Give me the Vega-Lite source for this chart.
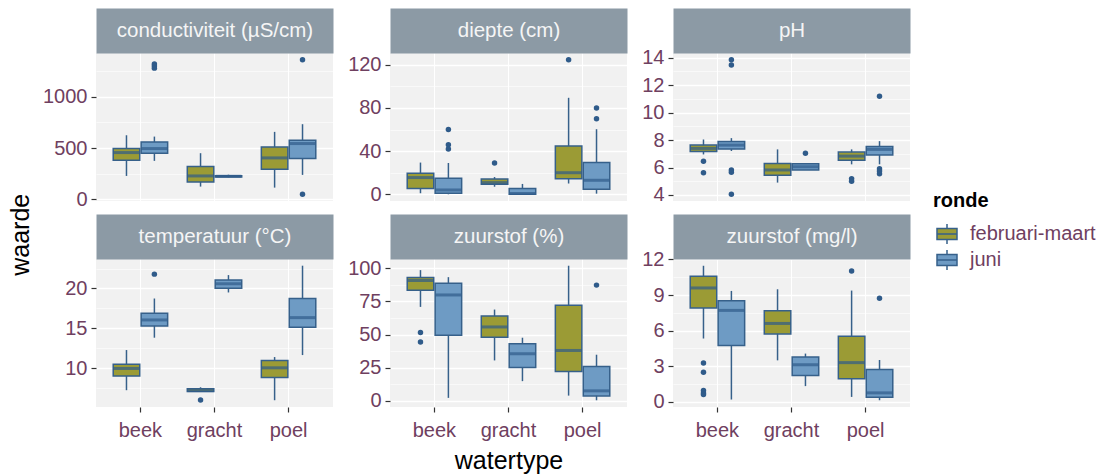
{
  "$schema": "https://vega.github.io/schema/vega-lite/v6.json",
  "padding": {"left": 8, "top": 20, "right": 5, "bottom": 2},
  "title": {"text": "waarde", "orient": "left", "anchor": "middle", "fontSize": 25, "fontWeight": "normal", "color": "#000000", "font": "Liberation Sans", "offset": 9, "dx": 12},
  "datasets": {
    "boxes": [
      {"var": "cond", "watertype": "beek", "ronde": "februari-maart", "lo": 228, "q1": 381, "med": 456, "q3": 495, "hi": 625},
      {"var": "cond", "watertype": "beek", "ronde": "juni", "lo": 375, "q1": 450, "med": 495, "q3": 560, "hi": 612},
      {"var": "cond", "watertype": "gracht", "ronde": "februari-maart", "lo": 124, "q1": 169, "med": 228, "q3": 319, "hi": 450},
      {"var": "cond", "watertype": "gracht", "ronde": "juni", "lo": 215, "q1": 218, "med": 225, "q3": 230, "hi": 240},
      {"var": "cond", "watertype": "poel", "ronde": "februari-maart", "lo": 114, "q1": 293, "med": 404, "q3": 511, "hi": 658},
      {"var": "cond", "watertype": "poel", "ronde": "juni", "lo": 238, "q1": 397, "med": 544, "q3": 577, "hi": 733},
      {"var": "diepte", "watertype": "beek", "ronde": "februari-maart", "lo": 1, "q1": 5.3, "med": 15.5, "q3": 19.5, "hi": 29.4},
      {"var": "diepte", "watertype": "beek", "ronde": "juni", "lo": 0, "q1": 1, "med": 4, "q3": 14.8, "hi": 29},
      {"var": "diepte", "watertype": "gracht", "ronde": "februari-maart", "lo": 7, "q1": 9.3, "med": 10.8, "q3": 14.2, "hi": 16},
      {"var": "diepte", "watertype": "gracht", "ronde": "juni", "lo": 0, "q1": 0, "med": 0.8, "q3": 5.3, "hi": 9.6},
      {"var": "diepte", "watertype": "poel", "ronde": "februari-maart", "lo": 10, "q1": 14.5, "med": 20, "q3": 44.8, "hi": 89.4},
      {"var": "diepte", "watertype": "poel", "ronde": "juni", "lo": 0.6, "q1": 4.6, "med": 13, "q3": 29.4, "hi": 60.3},
      {"var": "ph", "watertype": "beek", "ronde": "februari-maart", "lo": 6.95, "q1": 7.17, "med": 7.39, "q3": 7.63, "hi": 8.04},
      {"var": "ph", "watertype": "beek", "ronde": "juni", "lo": 7.2, "q1": 7.34, "med": 7.63, "q3": 7.9, "hi": 8.14},
      {"var": "ph", "watertype": "gracht", "ronde": "februari-maart", "lo": 4.9, "q1": 5.43, "med": 5.82, "q3": 6.3, "hi": 7.32},
      {"var": "ph", "watertype": "gracht", "ronde": "juni", "lo": 5.82, "q1": 5.82, "med": 6.06, "q3": 6.28, "hi": 6.28},
      {"var": "ph", "watertype": "poel", "ronde": "februari-maart", "lo": 6.23, "q1": 6.52, "med": 6.83, "q3": 7.12, "hi": 7.32},
      {"var": "ph", "watertype": "poel", "ronde": "juni", "lo": 6.23, "q1": 6.91, "med": 7.32, "q3": 7.53, "hi": 7.92},
      {"var": "temp", "watertype": "beek", "ronde": "februari-maart", "lo": 7.23, "q1": 9.0, "med": 9.96, "q3": 10.5, "hi": 12.27},
      {"var": "temp", "watertype": "beek", "ronde": "juni", "lo": 13.82, "q1": 15.3, "med": 16.05, "q3": 16.9, "hi": 18.74},
      {"var": "temp", "watertype": "gracht", "ronde": "februari-maart", "lo": 7.0, "q1": 7.06, "med": 7.18, "q3": 7.4, "hi": 7.6},
      {"var": "temp", "watertype": "gracht", "ronde": "juni", "lo": 19.5, "q1": 20.04, "med": 20.59, "q3": 21.05, "hi": 21.68},
      {"var": "temp", "watertype": "poel", "ronde": "februari-maart", "lo": 5.97, "q1": 8.82, "med": 10.04, "q3": 10.97, "hi": 11.39},
      {"var": "temp", "watertype": "poel", "ronde": "juni", "lo": 11.64, "q1": 15.13, "med": 16.34, "q3": 18.74, "hi": 22.86},
      {"var": "o2pct", "watertype": "beek", "ronde": "februari-maart", "lo": 70.8, "q1": 83.4, "med": 90.7, "q3": 93, "hi": 98.5},
      {"var": "o2pct", "watertype": "beek", "ronde": "juni", "lo": 2.3, "q1": 49.4, "med": 79.8, "q3": 88.7, "hi": 93.2},
      {"var": "o2pct", "watertype": "gracht", "ronde": "februari-maart", "lo": 30.5, "q1": 47.9, "med": 55.7, "q3": 64, "hi": 68.8},
      {"var": "o2pct", "watertype": "gracht", "ronde": "juni", "lo": 14.9, "q1": 25.2, "med": 35.5, "q3": 43, "hi": 47.6},
      {"var": "o2pct", "watertype": "poel", "ronde": "februari-maart", "lo": 4, "q1": 22.2, "med": 38, "q3": 72, "hi": 101.8},
      {"var": "o2pct", "watertype": "poel", "ronde": "juni", "lo": 0.5, "q1": 3.8, "med": 7.6, "q3": 25.9, "hi": 34.8},
      {"var": "o2mgl", "watertype": "beek", "ronde": "februari-maart", "lo": 5.34, "q1": 7.91, "med": 9.6, "q3": 10.59, "hi": 11.47},
      {"var": "o2mgl", "watertype": "beek", "ronde": "juni", "lo": 0.2, "q1": 4.75, "med": 7.71, "q3": 8.53, "hi": 9.35},
      {"var": "o2mgl", "watertype": "gracht", "ronde": "februari-maart", "lo": 3.5, "q1": 5.73, "med": 6.61, "q3": 7.68, "hi": 9.49},
      {"var": "o2mgl", "watertype": "gracht", "ronde": "juni", "lo": 1.33, "q1": 2.23, "med": 3.14, "q3": 3.79, "hi": 4.07},
      {"var": "o2mgl", "watertype": "poel", "ronde": "februari-maart", "lo": 0.42, "q1": 1.95, "med": 3.31, "q3": 5.54, "hi": 9.38},
      {"var": "o2mgl", "watertype": "poel", "ronde": "juni", "lo": 0.14, "q1": 0.4, "med": 0.76, "q3": 2.74, "hi": 3.53}
    ],
    "outliers": [
      {"var": "cond", "watertype": "beek", "ronde": "juni", "value": 1320},
      {"var": "cond", "watertype": "beek", "ronde": "juni", "value": 1300},
      {"var": "cond", "watertype": "beek", "ronde": "juni", "value": 1280},
      {"var": "cond", "watertype": "poel", "ronde": "juni", "value": 1362},
      {"var": "cond", "watertype": "poel", "ronde": "juni", "value": 49},
      {"var": "diepte", "watertype": "beek", "ronde": "juni", "value": 60},
      {"var": "diepte", "watertype": "beek", "ronde": "juni", "value": 46},
      {"var": "diepte", "watertype": "beek", "ronde": "juni", "value": 42},
      {"var": "diepte", "watertype": "gracht", "ronde": "februari-maart", "value": 29},
      {"var": "diepte", "watertype": "poel", "ronde": "februari-maart", "value": 124.7},
      {"var": "diepte", "watertype": "poel", "ronde": "juni", "value": 80},
      {"var": "diepte", "watertype": "poel", "ronde": "juni", "value": 70},
      {"var": "ph", "watertype": "beek", "ronde": "februari-maart", "value": 6.45},
      {"var": "ph", "watertype": "beek", "ronde": "februari-maart", "value": 5.62},
      {"var": "ph", "watertype": "beek", "ronde": "juni", "value": 13.85},
      {"var": "ph", "watertype": "beek", "ronde": "juni", "value": 13.47},
      {"var": "ph", "watertype": "beek", "ronde": "juni", "value": 5.82},
      {"var": "ph", "watertype": "beek", "ronde": "juni", "value": 5.65},
      {"var": "ph", "watertype": "beek", "ronde": "juni", "value": 4.05},
      {"var": "ph", "watertype": "gracht", "ronde": "juni", "value": 7.03},
      {"var": "ph", "watertype": "poel", "ronde": "februari-maart", "value": 5.19},
      {"var": "ph", "watertype": "poel", "ronde": "februari-maart", "value": 5.0},
      {"var": "ph", "watertype": "poel", "ronde": "juni", "value": 11.19},
      {"var": "ph", "watertype": "poel", "ronde": "juni", "value": 5.91},
      {"var": "ph", "watertype": "poel", "ronde": "juni", "value": 5.74},
      {"var": "ph", "watertype": "poel", "ronde": "juni", "value": 5.55},
      {"var": "temp", "watertype": "beek", "ronde": "juni", "value": 21.8},
      {"var": "temp", "watertype": "gracht", "ronde": "februari-maart", "value": 6.0},
      {"var": "o2pct", "watertype": "beek", "ronde": "februari-maart", "value": 51.6},
      {"var": "o2pct", "watertype": "beek", "ronde": "februari-maart", "value": 44.3},
      {"var": "o2pct", "watertype": "poel", "ronde": "juni", "value": 87.2},
      {"var": "o2mgl", "watertype": "beek", "ronde": "februari-maart", "value": 3.28},
      {"var": "o2mgl", "watertype": "beek", "ronde": "februari-maart", "value": 2.49},
      {"var": "o2mgl", "watertype": "beek", "ronde": "februari-maart", "value": 0.96},
      {"var": "o2mgl", "watertype": "beek", "ronde": "februari-maart", "value": 0.76},
      {"var": "o2mgl", "watertype": "beek", "ronde": "februari-maart", "value": 0.62},
      {"var": "o2mgl", "watertype": "poel", "ronde": "februari-maart", "value": 11.02},
      {"var": "o2mgl", "watertype": "poel", "ronde": "juni", "value": 8.73}
    ]
  },
  "columns": 3,
  "spacing": {"row": 16, "column": 14},
  "align": "each",
  "resolve": {"scale": {"x": "independent", "y": "independent", "fill": "shared"}, "legend": {"fill": "shared"}},
  "concat": [
    {
      "width": 237, "height": 148,
      "resolve": {"axis": {"x": "independent", "y": "independent"}},
      "layer": [
        {
          "data": {"name": "boxes"}, "transform": [{"filter": {"field": "var", "equal": "cond"}}],
          "mark": {"type": "rule", "color": "#36608a", "strokeWidth": 1.5},
          "encoding": {
            "x": {"field": "watertype", "type": "nominal", "scale": {"domain": ["beek", "gracht", "poel"], "paddingInner": 0.25, "paddingOuter": 0.225}, "axis": {"title": null, "labels": false, "ticks": false, "domain": false, "grid": true, "bandPosition": 0.5}},
            "xOffset": {"field": "ronde", "type": "nominal", "scale": {"paddingInner": 0.05, "paddingOuter": 0.02}},
            "y": {"field": "lo", "type": "quantitative", "scale": {"domain": [-16.6, 1427.7], "nice": false, "zero": false}, "axis": {"title": null, "format": "d", "labelOverlap": false, "values": [0, 250, 500, 750, 1000, 1250], "labelExpr": "datum.value % 500 === 0 ? datum.label : ''", "tickOpacity": {"condition": {"test": "datum.value % 500 === 0", "value": 1}, "value": 0}, "gridWidth": {"condition": {"test": "datum.value % 500 === 0", "value": 1.3}, "value": 0.6}}},
            "y2": {"field": "hi"}
          }
        },
        {
          "data": {"name": "boxes"}, "transform": [{"filter": {"field": "var", "equal": "cond"}}],
          "mark": {"type": "bar", "stroke": "#36608a", "strokeWidth": 1.5},
          "encoding": {
            "x": {"field": "watertype", "type": "nominal", "axis": {"orient": "top", "title": "conductiviteit (µS/cm)", "labels": false, "ticks": false, "grid": false, "domain": true, "domainColor": "#8c9aa5", "domainWidth": 45, "offset": 22.5, "titleY": 0, "titleBaseline": "middle", "titleFontSize": 20.5, "titleFontWeight": "normal", "titleColor": "#f5f5f5"}},
            "xOffset": {"field": "ronde", "type": "nominal"},
            "y": {"field": "q1", "type": "quantitative", "axis": null},
            "y2": {"field": "q3"},
            "fill": {"field": "ronde", "type": "nominal", "scale": {"domain": ["februari-maart", "juni"], "range": ["#9b9b35", "#6e9bc4"]}, "title": "ronde"}
          }
        },
        {
          "data": {"name": "boxes"}, "transform": [{"filter": {"field": "var", "equal": "cond"}}],
          "mark": {"type": "tick", "color": "#2f5b8a", "thickness": 3, "size": 26},
          "encoding": {
            "x": {"field": "watertype", "type": "nominal", "axis": null},
            "xOffset": {"field": "ronde", "type": "nominal"},
            "y": {"field": "med", "type": "quantitative", "axis": null}
          }
        },
        {
          "data": {"name": "outliers"}, "transform": [{"filter": {"field": "var", "equal": "cond"}}],
          "mark": {"type": "circle", "color": "#2f5b8a", "size": 30, "opacity": 1},
          "encoding": {
            "x": {"field": "watertype", "type": "nominal", "axis": null},
            "xOffset": {"field": "ronde", "type": "nominal"},
            "y": {"field": "value", "type": "quantitative", "axis": null}
          }
        }
      ]
    },
    {
      "width": 237, "height": 148,
      "resolve": {"axis": {"x": "independent", "y": "independent"}},
      "layer": [
        {
          "data": {"name": "boxes"}, "transform": [{"filter": {"field": "var", "equal": "diepte"}}],
          "mark": {"type": "rule", "color": "#36608a", "strokeWidth": 1.5},
          "encoding": {
            "x": {"field": "watertype", "type": "nominal", "scale": {"domain": ["beek", "gracht", "poel"], "paddingInner": 0.25, "paddingOuter": 0.225}, "axis": {"title": null, "labels": false, "ticks": false, "domain": false, "grid": true, "bandPosition": 0.5}},
            "xOffset": {"field": "ronde", "type": "nominal", "scale": {"paddingInner": 0.05, "paddingOuter": 0.02}},
            "y": {"field": "lo", "type": "quantitative", "scale": {"domain": [-6.2, 130.9], "nice": false, "zero": false}, "axis": {"title": null, "format": "d", "labelOverlap": false, "values": [0, 20, 40, 60, 80, 100, 120], "labelExpr": "datum.value % 40 === 0 ? datum.label : ''", "tickOpacity": {"condition": {"test": "datum.value % 40 === 0", "value": 1}, "value": 0}, "gridWidth": {"condition": {"test": "datum.value % 40 === 0", "value": 1.3}, "value": 0.6}}},
            "y2": {"field": "hi"}
          }
        },
        {
          "data": {"name": "boxes"}, "transform": [{"filter": {"field": "var", "equal": "diepte"}}],
          "mark": {"type": "bar", "stroke": "#36608a", "strokeWidth": 1.5},
          "encoding": {
            "x": {"field": "watertype", "type": "nominal", "axis": {"orient": "top", "title": "diepte (cm)", "labels": false, "ticks": false, "grid": false, "domain": true, "domainColor": "#8c9aa5", "domainWidth": 45, "offset": 22.5, "titleY": 0, "titleBaseline": "middle", "titleFontSize": 20.5, "titleFontWeight": "normal", "titleColor": "#f5f5f5"}},
            "xOffset": {"field": "ronde", "type": "nominal"},
            "y": {"field": "q1", "type": "quantitative", "axis": null},
            "y2": {"field": "q3"},
            "fill": {"field": "ronde", "type": "nominal", "scale": {"domain": ["februari-maart", "juni"], "range": ["#9b9b35", "#6e9bc4"]}, "title": "ronde"}
          }
        },
        {
          "data": {"name": "boxes"}, "transform": [{"filter": {"field": "var", "equal": "diepte"}}],
          "mark": {"type": "tick", "color": "#2f5b8a", "thickness": 3, "size": 26},
          "encoding": {
            "x": {"field": "watertype", "type": "nominal", "axis": null},
            "xOffset": {"field": "ronde", "type": "nominal"},
            "y": {"field": "med", "type": "quantitative", "axis": null}
          }
        },
        {
          "data": {"name": "outliers"}, "transform": [{"filter": {"field": "var", "equal": "diepte"}}],
          "mark": {"type": "circle", "color": "#2f5b8a", "size": 30, "opacity": 1},
          "encoding": {
            "x": {"field": "watertype", "type": "nominal", "axis": null},
            "xOffset": {"field": "ronde", "type": "nominal"},
            "y": {"field": "value", "type": "quantitative", "axis": null}
          }
        }
      ]
    },
    {
      "width": 237, "height": 148,
      "resolve": {"axis": {"x": "independent", "y": "independent"}},
      "layer": [
        {
          "data": {"name": "boxes"}, "transform": [{"filter": {"field": "var", "equal": "ph"}}],
          "mark": {"type": "rule", "color": "#36608a", "strokeWidth": 1.5},
          "encoding": {
            "x": {"field": "watertype", "type": "nominal", "scale": {"domain": ["beek", "gracht", "poel"], "paddingInner": 0.25, "paddingOuter": 0.225}, "axis": {"title": null, "labels": false, "ticks": false, "domain": false, "grid": true, "bandPosition": 0.5}},
            "xOffset": {"field": "ronde", "type": "nominal", "scale": {"paddingInner": 0.05, "paddingOuter": 0.02}},
            "y": {"field": "lo", "type": "quantitative", "scale": {"domain": [3.56, 14.34], "nice": false, "zero": false}, "axis": {"title": null, "format": "d", "labelOverlap": false, "values": [4, 5, 6, 7, 8, 9, 10, 11, 12, 13, 14], "labelExpr": "datum.value % 2 === 0 ? datum.label : ''", "tickOpacity": {"condition": {"test": "datum.value % 2 === 0", "value": 1}, "value": 0}, "gridWidth": {"condition": {"test": "datum.value % 2 === 0", "value": 1.3}, "value": 0.6}}},
            "y2": {"field": "hi"}
          }
        },
        {
          "data": {"name": "boxes"}, "transform": [{"filter": {"field": "var", "equal": "ph"}}],
          "mark": {"type": "bar", "stroke": "#36608a", "strokeWidth": 1.5},
          "encoding": {
            "x": {"field": "watertype", "type": "nominal", "axis": {"orient": "top", "title": "pH", "labels": false, "ticks": false, "grid": false, "domain": true, "domainColor": "#8c9aa5", "domainWidth": 45, "offset": 22.5, "titleY": 0, "titleBaseline": "middle", "titleFontSize": 20.5, "titleFontWeight": "normal", "titleColor": "#f5f5f5"}},
            "xOffset": {"field": "ronde", "type": "nominal"},
            "y": {"field": "q1", "type": "quantitative", "axis": null},
            "y2": {"field": "q3"},
            "fill": {"field": "ronde", "type": "nominal", "scale": {"domain": ["februari-maart", "juni"], "range": ["#9b9b35", "#6e9bc4"]}, "title": "ronde"}
          }
        },
        {
          "data": {"name": "boxes"}, "transform": [{"filter": {"field": "var", "equal": "ph"}}],
          "mark": {"type": "tick", "color": "#2f5b8a", "thickness": 3, "size": 26},
          "encoding": {
            "x": {"field": "watertype", "type": "nominal", "axis": null},
            "xOffset": {"field": "ronde", "type": "nominal"},
            "y": {"field": "med", "type": "quantitative", "axis": null}
          }
        },
        {
          "data": {"name": "outliers"}, "transform": [{"filter": {"field": "var", "equal": "ph"}}],
          "mark": {"type": "circle", "color": "#2f5b8a", "size": 30, "opacity": 1},
          "encoding": {
            "x": {"field": "watertype", "type": "nominal", "axis": null},
            "xOffset": {"field": "ronde", "type": "nominal"},
            "y": {"field": "value", "type": "quantitative", "axis": null}
          }
        }
      ]
    },
    {
      "width": 237, "height": 148,
      "resolve": {"axis": {"x": "independent", "y": "independent"}},
      "layer": [
        {
          "data": {"name": "boxes"}, "transform": [{"filter": {"field": "var", "equal": "temp"}}],
          "mark": {"type": "rule", "color": "#36608a", "strokeWidth": 1.5},
          "encoding": {
            "x": {"field": "watertype", "type": "nominal", "scale": {"domain": ["beek", "gracht", "poel"], "paddingInner": 0.25, "paddingOuter": 0.225}, "axis": {"title": null, "labels": true, "ticks": true, "domain": false, "grid": true, "bandPosition": 0.5, "labelAngle": 0, "labelPadding": 8}},
            "xOffset": {"field": "ronde", "type": "nominal", "scale": {"paddingInner": 0.05, "paddingOuter": 0.02}},
            "y": {"field": "lo", "type": "quantitative", "scale": {"domain": [5.12, 23.7], "nice": false, "zero": false}, "axis": {"title": null, "format": "d", "labelOverlap": false, "values": [7.5, 10, 12.5, 15, 17.5, 20, 22.5], "labelExpr": "datum.value % 5 === 0 ? datum.label : ''", "tickOpacity": {"condition": {"test": "datum.value % 5 === 0", "value": 1}, "value": 0}, "gridWidth": {"condition": {"test": "datum.value % 5 === 0", "value": 1.3}, "value": 0.6}}},
            "y2": {"field": "hi"}
          }
        },
        {
          "data": {"name": "boxes"}, "transform": [{"filter": {"field": "var", "equal": "temp"}}],
          "mark": {"type": "bar", "stroke": "#36608a", "strokeWidth": 1.5},
          "encoding": {
            "x": {"field": "watertype", "type": "nominal", "axis": {"orient": "top", "title": "temperatuur (°C)", "labels": false, "ticks": false, "grid": false, "domain": true, "domainColor": "#8c9aa5", "domainWidth": 45, "offset": 22.5, "titleY": 0, "titleBaseline": "middle", "titleFontSize": 20.5, "titleFontWeight": "normal", "titleColor": "#f5f5f5"}},
            "xOffset": {"field": "ronde", "type": "nominal"},
            "y": {"field": "q1", "type": "quantitative", "axis": null},
            "y2": {"field": "q3"},
            "fill": {"field": "ronde", "type": "nominal", "scale": {"domain": ["februari-maart", "juni"], "range": ["#9b9b35", "#6e9bc4"]}, "title": "ronde"}
          }
        },
        {
          "data": {"name": "boxes"}, "transform": [{"filter": {"field": "var", "equal": "temp"}}],
          "mark": {"type": "tick", "color": "#2f5b8a", "thickness": 3, "size": 26},
          "encoding": {
            "x": {"field": "watertype", "type": "nominal", "axis": null},
            "xOffset": {"field": "ronde", "type": "nominal"},
            "y": {"field": "med", "type": "quantitative", "axis": null}
          }
        },
        {
          "data": {"name": "outliers"}, "transform": [{"filter": {"field": "var", "equal": "temp"}}],
          "mark": {"type": "circle", "color": "#2f5b8a", "size": 30, "opacity": 1},
          "encoding": {
            "x": {"field": "watertype", "type": "nominal", "axis": null},
            "xOffset": {"field": "ronde", "type": "nominal"},
            "y": {"field": "value", "type": "quantitative", "axis": null}
          }
        }
      ]
    },
    {
      "width": 237, "height": 148,
      "resolve": {"axis": {"x": "independent", "y": "independent"}},
      "layer": [
        {
          "data": {"name": "boxes"}, "transform": [{"filter": {"field": "var", "equal": "o2pct"}}],
          "mark": {"type": "rule", "color": "#36608a", "strokeWidth": 1.5},
          "encoding": {
            "x": {"field": "watertype", "type": "nominal", "scale": {"domain": ["beek", "gracht", "poel"], "paddingInner": 0.25, "paddingOuter": 0.225}, "axis": {"title": "watertype", "titleFontSize": 25, "titleFontWeight": "normal", "titleColor": "#000000", "titlePadding": 8, "labels": true, "ticks": true, "domain": false, "grid": true, "bandPosition": 0.5, "labelAngle": 0, "labelPadding": 8}},
            "xOffset": {"field": "ronde", "type": "nominal", "scale": {"paddingInner": 0.05, "paddingOuter": 0.02}},
            "y": {"field": "lo", "type": "quantitative", "scale": {"domain": [-4.57, 106.87], "nice": false, "zero": false}, "axis": {"title": null, "format": "d", "labelOverlap": false, "values": [0, 12.5, 25, 37.5, 50, 62.5, 75, 87.5, 100], "labelExpr": "datum.value % 25 === 0 ? datum.label : ''", "tickOpacity": {"condition": {"test": "datum.value % 25 === 0", "value": 1}, "value": 0}, "gridWidth": {"condition": {"test": "datum.value % 25 === 0", "value": 1.3}, "value": 0.6}}},
            "y2": {"field": "hi"}
          }
        },
        {
          "data": {"name": "boxes"}, "transform": [{"filter": {"field": "var", "equal": "o2pct"}}],
          "mark": {"type": "bar", "stroke": "#36608a", "strokeWidth": 1.5},
          "encoding": {
            "x": {"field": "watertype", "type": "nominal", "axis": {"orient": "top", "title": "zuurstof (%)", "labels": false, "ticks": false, "grid": false, "domain": true, "domainColor": "#8c9aa5", "domainWidth": 45, "offset": 22.5, "titleY": 0, "titleBaseline": "middle", "titleFontSize": 20.5, "titleFontWeight": "normal", "titleColor": "#f5f5f5"}},
            "xOffset": {"field": "ronde", "type": "nominal"},
            "y": {"field": "q1", "type": "quantitative", "axis": null},
            "y2": {"field": "q3"},
            "fill": {"field": "ronde", "type": "nominal", "scale": {"domain": ["februari-maart", "juni"], "range": ["#9b9b35", "#6e9bc4"]}, "title": "ronde"}
          }
        },
        {
          "data": {"name": "boxes"}, "transform": [{"filter": {"field": "var", "equal": "o2pct"}}],
          "mark": {"type": "tick", "color": "#2f5b8a", "thickness": 3, "size": 26},
          "encoding": {
            "x": {"field": "watertype", "type": "nominal", "axis": null},
            "xOffset": {"field": "ronde", "type": "nominal"},
            "y": {"field": "med", "type": "quantitative", "axis": null}
          }
        },
        {
          "data": {"name": "outliers"}, "transform": [{"filter": {"field": "var", "equal": "o2pct"}}],
          "mark": {"type": "circle", "color": "#2f5b8a", "size": 30, "opacity": 1},
          "encoding": {
            "x": {"field": "watertype", "type": "nominal", "axis": null},
            "xOffset": {"field": "ronde", "type": "nominal"},
            "y": {"field": "value", "type": "quantitative", "axis": null}
          }
        }
      ]
    },
    {
      "width": 237, "height": 148,
      "resolve": {"axis": {"x": "independent", "y": "independent"}},
      "layer": [
        {
          "data": {"name": "boxes"}, "transform": [{"filter": {"field": "var", "equal": "o2mgl"}}],
          "mark": {"type": "rule", "color": "#36608a", "strokeWidth": 1.5},
          "encoding": {
            "x": {"field": "watertype", "type": "nominal", "scale": {"domain": ["beek", "gracht", "poel"], "paddingInner": 0.25, "paddingOuter": 0.225}, "axis": {"title": null, "labels": true, "ticks": true, "domain": false, "grid": true, "bandPosition": 0.5, "labelAngle": 0, "labelPadding": 8}},
            "xOffset": {"field": "ronde", "type": "nominal", "scale": {"paddingInner": 0.05, "paddingOuter": 0.02}},
            "y": {"field": "lo", "type": "quantitative", "scale": {"domain": [-0.43, 12.04], "nice": false, "zero": false}, "axis": {"title": null, "format": "d", "labelOverlap": false, "values": [0, 1.5, 3, 4.5, 6, 7.5, 9, 10.5, 12], "labelExpr": "datum.value % 3 === 0 ? datum.label : ''", "tickOpacity": {"condition": {"test": "datum.value % 3 === 0", "value": 1}, "value": 0}, "gridWidth": {"condition": {"test": "datum.value % 3 === 0", "value": 1.3}, "value": 0.6}}},
            "y2": {"field": "hi"}
          }
        },
        {
          "data": {"name": "boxes"}, "transform": [{"filter": {"field": "var", "equal": "o2mgl"}}],
          "mark": {"type": "bar", "stroke": "#36608a", "strokeWidth": 1.5},
          "encoding": {
            "x": {"field": "watertype", "type": "nominal", "axis": {"orient": "top", "title": "zuurstof (mg/l)", "labels": false, "ticks": false, "grid": false, "domain": true, "domainColor": "#8c9aa5", "domainWidth": 45, "offset": 22.5, "titleY": 0, "titleBaseline": "middle", "titleFontSize": 20.5, "titleFontWeight": "normal", "titleColor": "#f5f5f5"}},
            "xOffset": {"field": "ronde", "type": "nominal"},
            "y": {"field": "q1", "type": "quantitative", "axis": null},
            "y2": {"field": "q3"},
            "fill": {"field": "ronde", "type": "nominal", "scale": {"domain": ["februari-maart", "juni"], "range": ["#9b9b35", "#6e9bc4"]}, "title": "ronde"}
          }
        },
        {
          "data": {"name": "boxes"}, "transform": [{"filter": {"field": "var", "equal": "o2mgl"}}],
          "mark": {"type": "tick", "color": "#2f5b8a", "thickness": 3, "size": 26},
          "encoding": {
            "x": {"field": "watertype", "type": "nominal", "axis": null},
            "xOffset": {"field": "ronde", "type": "nominal"},
            "y": {"field": "med", "type": "quantitative", "axis": null}
          }
        },
        {
          "data": {"name": "outliers"}, "transform": [{"filter": {"field": "var", "equal": "o2mgl"}}],
          "mark": {"type": "circle", "color": "#2f5b8a", "size": 30, "opacity": 1},
          "encoding": {
            "x": {"field": "watertype", "type": "nominal", "axis": null},
            "xOffset": {"field": "ronde", "type": "nominal"},
            "y": {"field": "value", "type": "quantitative", "axis": null}
          }
        }
      ]
    }
  ],
  "config": {
    "font": "Liberation Sans",
    "view": {"fill": "#f1f1f1", "stroke": null},
    "axis": {"labelFont": "Liberation Sans", "labelFontSize": 20, "labelColor": "#6f4060", "tickColor": "#333333", "tickSize": 5, "tickWidth": 1.2, "labelPadding": 4, "domain": false, "gridColor": "#ffffff", "titleFont": "Liberation Sans"},
    "legend": {"orient": "none", "legendX": 837, "legendY": 138, "titleFontSize": 20, "titleFontWeight": "bold", "titleColor": "#000000", "titleFont": "Liberation Sans", "labelFont": "Liberation Sans", "labelFontSize": 20, "labelColor": "#6f4060", "symbolType": "M-1,-0.55H1V0.55H-1Z M-1,0H1 M0,-0.55V-1 M0,0.55V1", "symbolSize": 400, "symbolOffset": 3, "labelOffset": 12, "symbolStrokeColor": "#36608a", "symbolStrokeWidth": 1.5, "symbolOpacity": 1, "rowPadding": 0, "titlePadding": 12}
  }
}
